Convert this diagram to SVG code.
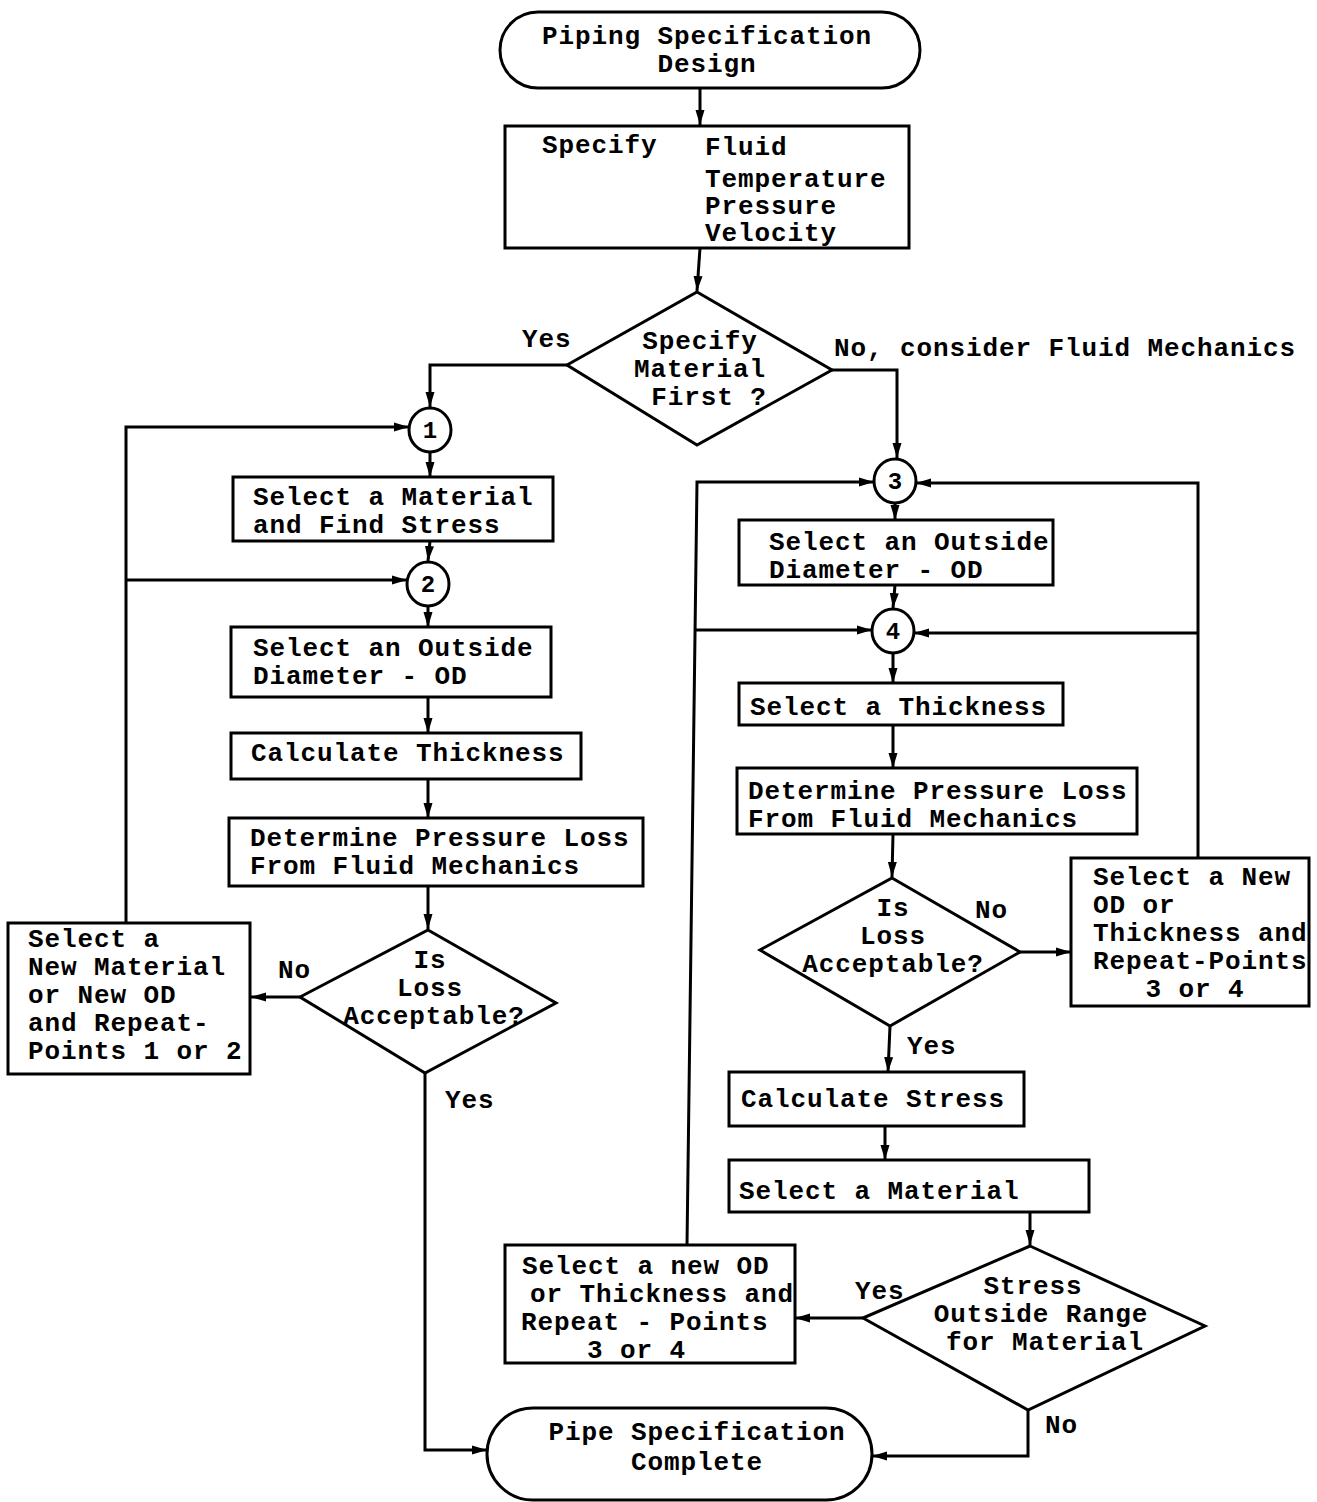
<svg xmlns="http://www.w3.org/2000/svg" width="1317" height="1502" viewBox="0 0 1317 1502">
<defs>
<marker id="ah" markerUnits="userSpaceOnUse" markerWidth="16" markerHeight="10" refX="15" refY="5" orient="auto">
<path d="M0,0.5 L15,5 L0,9.5 z" fill="#000"/>
</marker>
<style>
.s{fill:none;stroke:#000;stroke-width:3}
.c{fill:none;stroke:#000;stroke-width:3;marker-end:url(#ah)}
text{font-family:"Liberation Mono","Courier New",monospace;font-size:26px;letter-spacing:0.9px;font-weight:bold;fill:#000}
.m{text-anchor:middle}
.n{font-size:24px;letter-spacing:0;text-anchor:middle}
</style>
</defs>
<rect width="1317" height="1502" fill="#fff"/>

<g id="start">
<rect class="s" x="500" y="12" width="420" height="76" rx="38"/>
<text class="m" x="707" y="44">Piping Specification</text>
<text class="m" x="707" y="72">Design</text>
</g>

<g id="specify">
<rect class="s" x="505" y="126" width="404" height="122"/>
<text x="542" y="153">Specify</text>
<text x="705" y="155">Fluid</text>
<text x="705" y="187">Temperature</text>
<text x="705" y="214">Pressure</text>
<text x="705" y="241">Velocity</text>
</g>

<g id="d1">
<polygon class="s" points="697,292 832,370 697,445 567,365"/>
<text class="m" x="700" y="349">Specify</text>
<text class="m" x="700" y="377">Material</text>
<text class="m" x="709" y="405">First ?</text>
</g>

<g id="p1">
<ellipse class="s" cx="430" cy="430" rx="21" ry="22"/>
<text class="n" x="430" y="438">1</text>
</g>
<g id="selmat1">
<rect class="s" x="233" y="477" width="320" height="64"/>
<text x="253" y="505">Select a Material</text>
<text x="253" y="533">and Find Stress</text>
</g>
<g id="p2">
<ellipse class="s" cx="428" cy="584" rx="21" ry="22"/>
<text class="n" x="428" y="592">2</text>
</g>
<g id="od1">
<rect class="s" x="231" y="627" width="320" height="70"/>
<text x="253" y="656">Select an Outside</text>
<text x="253" y="684">Diameter - OD</text>
</g>
<g id="calcthk">
<rect class="s" x="231" y="733" width="350" height="46"/>
<text x="251" y="761">Calculate Thickness</text>
</g>
<g id="ploss1">
<rect class="s" x="229" y="818" width="414" height="68"/>
<text x="250" y="846">Determine Pressure Loss</text>
<text x="250" y="874">From Fluid Mechanics</text>
</g>
<g id="d2">
<polygon class="s" points="428,930 556,1003 425,1073 300,997"/>
<text class="m" x="430" y="968">Is</text>
<text class="m" x="430" y="996">Loss</text>
<text class="m" x="434" y="1024">Acceptable?</text>
</g>
<g id="newmat">
<rect class="s" x="8" y="923" width="242" height="151"/>
<text x="28" y="947">Select a</text>
<text x="28" y="975">New Material</text>
<text x="28" y="1003">or New OD</text>
<text x="28" y="1031">and Repeat-</text>
<text x="28" y="1059">Points 1 or 2</text>
</g>

<g id="p3">
<ellipse class="s" cx="895" cy="481" rx="21" ry="22"/>
<text class="n" x="895" y="489">3</text>
</g>
<g id="od2">
<rect class="s" x="739" y="520" width="314" height="65"/>
<text x="769" y="550">Select an Outside</text>
<text x="769" y="578">Diameter - OD</text>
</g>
<g id="p4">
<ellipse class="s" cx="893" cy="631" rx="21" ry="22"/>
<text class="n" x="893" y="639">4</text>
</g>
<g id="selthk">
<rect class="s" x="739" y="683" width="324" height="42"/>
<text x="750" y="715">Select a Thickness</text>
</g>
<g id="ploss2">
<rect class="s" x="737" y="768" width="400" height="66"/>
<text x="748" y="799">Determine Pressure Loss</text>
<text x="748" y="827">From Fluid Mechanics</text>
</g>
<g id="d3">
<polygon class="s" points="892,878 1020,952 890,1026 760,950"/>
<text class="m" x="893" y="916">Is</text>
<text class="m" x="893" y="944">Loss</text>
<text class="m" x="893" y="972">Acceptable?</text>
</g>
<g id="newod1">
<rect class="s" x="1071" y="858" width="238" height="148"/>
<text x="1093" y="885">Select a New</text>
<text x="1093" y="913">OD or</text>
<text x="1093" y="941">Thickness and</text>
<text x="1093" y="969">Repeat-Points</text>
<text class="m" x="1195" y="997">3 or 4</text>
</g>
<g id="calcstress">
<rect class="s" x="729" y="1072" width="295" height="54"/>
<text x="741" y="1107">Calculate Stress</text>
</g>
<g id="selmat2">
<rect class="s" x="729" y="1160" width="360" height="52"/>
<text x="739" y="1199">Select a Material</text>
</g>
<g id="d4">
<polygon class="s" points="1030,1246 1205,1326 1028,1410 863,1318"/>
<text class="m" x="1033" y="1294">Stress</text>
<text class="m" x="1041" y="1322">Outside Range</text>
<text class="m" x="1045" y="1350">for Material</text>
</g>
<g id="newod2">
<rect class="s" x="505" y="1245" width="290" height="118"/>
<text x="522" y="1274">Select a new OD</text>
<text x="530" y="1302">or Thickness and</text>
<text x="521" y="1330">Repeat - Points</text>
<text x="587" y="1358">3 or 4</text>
</g>

<g id="end">
<rect class="s" x="487" y="1408" width="385" height="92" rx="46"/>
<text class="m" x="697" y="1440">Pipe Specification</text>
<text class="m" x="697" y="1470">Complete</text>
</g>

<g id="connectors">
<path class="c" d="M700,88 V125"/>
<path class="c" d="M700,248 L697,291"/>
<path class="c" d="M567,365 H430 V407"/>
<path class="c" d="M832,370 H897 V458"/>
<path class="c" d="M430,452 V477"/>
<path class="c" d="M430,541 L428,561"/>
<path class="c" d="M428,606 V627"/>
<path class="c" d="M428,697 V733"/>
<path class="c" d="M428,779 V818"/>
<path class="c" d="M428,886 V929"/>
<path class="c" d="M300,997 H251"/>
<path class="c" d="M126,923 V427 H409"/>
<path class="c" d="M126,580 H407"/>
<path class="c" d="M425,1073 V1450 H487"/>
<path class="c" d="M895,503 V520"/>
<path class="c" d="M895,585 L893,608"/>
<path class="c" d="M893,653 V683"/>
<path class="c" d="M893,725 V768"/>
<path class="c" d="M893,834 L892,877"/>
<path class="c" d="M1020,952 H1071"/>
<path class="c" d="M1198,858 V483 H916"/>
<path class="c" d="M1198,633 H914"/>
<path class="c" d="M890,1026 L888,1072"/>
<path class="c" d="M885,1126 V1160"/>
<path class="c" d="M1030,1212 V1245"/>
<path class="c" d="M863,1318 H795"/>
<path class="c" d="M687,1245 L697,482 H874"/>
<path class="c" d="M696,630 H872"/>
<path class="c" d="M1028,1410 V1456 H872"/>
</g>

<g id="labels">
<text x="522" y="347">Yes</text>
<text x="834" y="356">No, consider Fluid Mechanics</text>
<text x="278" y="978">No</text>
<text x="445" y="1108">Yes</text>
<text x="975" y="918">No</text>
<text x="907" y="1054">Yes</text>
<text x="855" y="1299">Yes</text>
<text x="1045" y="1433">No</text>
</g>
</svg>
